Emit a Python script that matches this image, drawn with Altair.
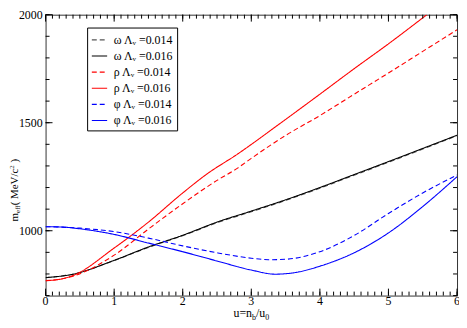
import altair as alt
import pandas as pd

# ---------------- data ----------------
series_names = ["ω Λᵥ =0.014", "ω Λᵥ =0.016", "ρ Λᵥ =0.014",
                "ρ Λᵥ =0.016", "φ Λᵥ =0.014", "φ Λᵥ =0.016"]
series_colors = ["#555555", "#000000", "#ff0000", "#ff0000", "#0000ff", "#0000ff"]
series_dash = [[5, 3], [1, 0], [5, 3], [1, 0], [5, 3], [1, 0]]

omega014_u = [0, 0.4, 1, 1.5, 2, 2.5, 3, 3.5, 4, 4.5, 5, 5.5, 6]
omega014_m = [783, 799, 862, 923, 977, 1037, 1088, 1140, 1197, 1257, 1317, 1378, 1440]

omega016_u = [0, 0.4, 1, 1.5, 2, 2.5, 3, 3.5, 4, 4.5, 5, 5.5, 6]
omega016_m = [783, 799, 863, 925, 979, 1040, 1091, 1143, 1200, 1260, 1320, 1381, 1442]

rho014_u = [0, 0.2, 0.4, 1, 1.5, 2, 2.5, 2.8, 3, 3.5, 4, 4.5, 5, 5.5, 6]
rho014_m = [769, 775, 790, 887, 1008, 1125, 1233, 1290, 1335, 1441, 1533, 1632, 1730, 1830, 1930]

rho016_u = [0, 0.2, 0.4, 1, 1.5, 2, 2.35, 2.8, 3.4, 4, 4.5, 5, 5.56]
rho016_m = [769, 775, 793, 920, 1040, 1175, 1262, 1355, 1492, 1632, 1750, 1865, 2000]

phi014_u = [0, 0.5, 1, 1.5, 2, 2.5, 3, 3.25, 3.5, 4, 4.5, 5, 5.5, 6]
phi014_m = [1019, 1012, 996, 966, 930, 898, 873, 866, 868, 903, 978, 1080, 1175, 1258]

phi016_u = [0, 0.25, 0.5, 1, 1.5, 2, 2.5, 3, 3.35, 3.7, 4, 4.5, 5, 5.5, 6]
phi016_m = [1019, 1017, 1009, 983, 943, 903, 860, 818, 799, 810, 836, 898, 990, 1112, 1250]

x_labels = [0, 1, 2, 3, 4, 5, 6]
y_labels = [1000, 1500, 2000]
x_minor = [i / 10 for i in range(0, 61)]
y_minor = [700 + 100 * i for i in range(0, 14)]

rows = []
for name, us, ms in zip(series_names,
                        [omega014_u, omega016_u, rho014_u, rho016_u, phi014_u, phi016_u],
                        [omega014_m, omega016_m, rho014_m, rho016_m, phi014_m, phi016_m]):
    for k, (u, m) in enumerate(zip(us, ms)):
        rows.append({"series": name, "u": u, "m": m, "k": k})
df = pd.DataFrame(rows)

# ---------------- layout ----------------
W, H = 416, 284
FONT = "Liberation Serif"
xscale = alt.Scale(domain=[0, 6], nice=False, zero=False)
yscale = alt.Scale(domain=[700, 2000], nice=False, zero=False)

legend = alt.Legend(orient="none", legendX=42, legendY=13, title=None,
                    labelFont=FONT, labelFontSize=12, labelColor="black",
                    symbolType="stroke", symbolSize=240, symbolStrokeWidth=1.2,
                    strokeColor="black", fillColor="white", padding=4,
                    rowPadding=1.3, labelOffset=6, labelLimit=200)

lines = alt.Chart(df).mark_line(strokeWidth=1.1, interpolate="monotone", clip=True).encode(
    x=alt.X("u:Q", scale=xscale, axis=None),
    y=alt.Y("m:Q", scale=yscale, axis=None),
    color=alt.Color("series:N", scale=alt.Scale(domain=series_names, range=series_colors),
                    legend=legend, sort=series_names),
    strokeDash=alt.StrokeDash("series:N", scale=alt.Scale(domain=series_names, range=series_dash),
                              legend=legend, sort=series_names),
    order="k:Q",
)


def xticks(vals, y1, y2):
    return alt.Chart(pd.DataFrame({"t": vals})).mark_rule(color="black", strokeWidth=1).encode(
        x=alt.X("t:Q", scale=xscale, axis=None), y=alt.value(y1), y2=alt.value(y2))


def yticks(vals, x1, x2):
    return alt.Chart(pd.DataFrame({"t": vals})).mark_rule(color="black", strokeWidth=1).encode(
        y=alt.Y("t:Q", scale=yscale, axis=None), x=alt.value(x1), x2=alt.value(x2))


def piece(txt, x, y, size, angle=0):
    return alt.Chart(pd.DataFrame({"t": [txt]})).mark_text(
        font=FONT, fontSize=size, align="left", baseline="alphabetic",
        angle=angle, color="black").encode(
        text="t:N", x=alt.value(x), y=alt.value(y))


ticks = [
    xticks(x_minor, H, H - 4), xticks(x_labels, H, H - 7),
    xticks(x_minor, 0, 4), xticks(x_labels, 0, 7),
    yticks(y_minor, 0, 4), yticks(y_labels, 0, 7),
    yticks(y_minor, W, W - 4), yticks(y_labels, W, W - 7),
]

# tick labels, placed through the scales
xlab = alt.Chart(pd.DataFrame({"v": x_labels})).mark_text(
    font=FONT, fontSize=12, align="center", baseline="alphabetic", color="black").encode(
    x=alt.X("v:Q", scale=xscale, axis=None), y=alt.value(H + 10), text=alt.Text("v:Q", format="d"))
ylab = alt.Chart(pd.DataFrame({"v": y_labels})).mark_text(
    font=FONT, fontSize=12, align="right", baseline="middle", color="black").encode(
    y=alt.Y("v:Q", scale=yscale, axis=None), x=alt.value(-3), text=alt.Text("v:Q", format="d"))

# x title: u=n_b/u_0
xt = [
    piece("u=n", 190, 306, 12),
    piece("b", 208.8, 309, 8),
    piece("/u", 212.8, 306, 12),
    piece("0", 222.1, 309, 8),
]
# y title: m_eff( MeV/c^2 )
yt = [
    piece("m", -28, 209, 11, 270),
    piece("eff", -25.5, 200.4, 7, 270),
    piece("( MeV/c", -28, 192.7, 11, 270),
    piece("2", -32, 155.7, 7, 270),
    piece(")", -28, 149.5, 11, 270),
]

chart = alt.layer(lines, *ticks, xlab, ylab, *xt, *yt).resolve_scale(
    color="shared", strokeDash="shared"
).properties(
    width=W, height=H,
    autosize=alt.AutoSizeParams(type="none"),
    padding={"left": 38, "top": 5, "right": 2, "bottom": 28},
).configure_view(stroke="#333333", strokeWidth=1)

chart.save("out.html", embed_options={"renderer": "svg", "actions": False})
